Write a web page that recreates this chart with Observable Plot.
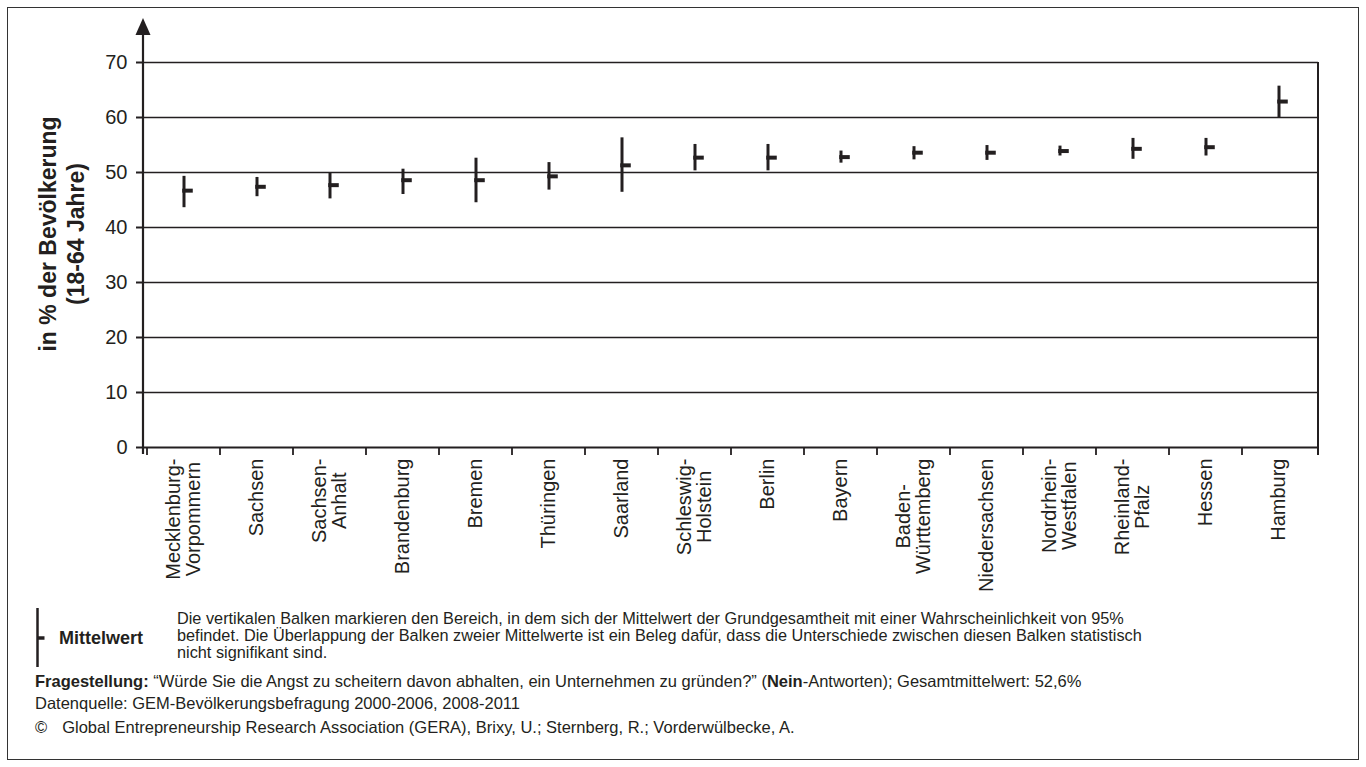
<!DOCTYPE html>
<html><head><meta charset="utf-8">
<script src="https://cdn.jsdelivr.net/npm/d3@7"></script>
<script src="https://cdn.jsdelivr.net/npm/@observablehq/plot@0.6"></script>
<style>
body{margin:0;background:#fff;font-family:"Liberation Sans",Arial,Helvetica,sans-serif;color:#231f20;}
#wrap{position:relative;width:1366px;height:767px;overflow:hidden;background:#fff}
#border{position:absolute;left:7px;top:7px;width:1352px;height:753px;border:1.5px solid #333;box-sizing:border-box;pointer-events:none}
#chart{position:absolute;left:0;top:0}
.ft{position:absolute;font-size:16.5px;white-space:nowrap;line-height:17px;color:#231f20}
</style></head><body>
<div id="wrap">
<div id="chart"></div>
<svg style="position:absolute;left:30px;top:600px" width="24" height="76">
  <line x1="7.5" x2="7.5" y1="8" y2="67" stroke="#231f20" stroke-width="2.5"/>
  <line x1="7" x2="14.5" y1="38" y2="38" stroke="#231f20" stroke-width="3.5"/>
</svg>
<div class="ft" style="left:59px;top:629.5px;font-weight:bold;font-size:18px">Mittelwert</div>
<div class="ft" style="left:177px;top:609.5px;font-size:16.3px">Die vertikalen Balken markieren den Bereich, in dem sich der Mittelwert der Grundgesamtheit mit einer Wahrscheinlichkeit von 95%<br>befindet. Die Überlappung der Balken zweier Mittelwerte ist ein Beleg dafür, dass die Unterschiede zwischen diesen Balken statistisch<br>nicht signifikant sind.</div>
<div class="ft" style="left:35px;top:672.5px"><b>Fragestellung:</b> “Würde Sie die Angst zu scheitern davon abhalten, ein Unternehmen zu gründen?” (<b>Nein</b>-Antworten); Gesamtmittelwert: 52,6%</div>
<div class="ft" style="left:35px;top:694.5px">Datenquelle: GEM-Bevölkerungsbefragung 2000-2006, 2008-2011</div>
<div class="ft" style="left:35px;top:718.5px">©<span style="display:inline-block;width:15px"></span>Global Entrepreneurship Research Association (GERA), Brixy, U.; Sternberg, R.; Vorderwülbecke, A.</div>
<div id="border"></div>
</div>
<script>
const states = ["Mecklenburg-Vorpommern","Sachsen","Sachsen-Anhalt","Brandenburg","Bremen","Thüringen","Saarland","Schleswig-Holstein","Berlin","Bayern","Baden-Württemberg","Niedersachsen","Nordrhein-Westfalen","Rheinland-Pfalz","Hessen","Hamburg"];
const xLabels = ["Mecklenburg-\nVorpommern","Sachsen","Sachsen-\nAnhalt","Brandenburg","Bremen","Thüringen","Saarland","Schleswig-\nHolstein","Berlin","Bayern","Baden-\nWürttemberg","Niedersachsen","Nordrhein-\nWestfalen","Rheinland-\nPfalz","Hessen","Hamburg"];
const lower = [43.6,45.6,45.2,46.0,44.5,46.8,46.4,50.3,50.3,51.7,52.3,52.2,53.0,52.4,53.0,59.9];
const mean  = [46.7,47.4,47.7,48.6,48.6,49.3,51.3,52.7,52.7,52.8,53.6,53.6,53.9,54.3,54.6,62.9];
const upper = [49.3,49.1,49.9,50.6,52.6,51.8,56.3,55.1,55.1,53.9,54.7,54.9,54.8,56.2,56.2,65.7];
const yTicks = [0,10,20,30,40,50,60,70];
const yTitle = ["in % der Bevölkerung","(18-64 Jahre)"];

const data = states.map((s,i)=>({state:s, lo:lower[i], mean:mean[i], hi:upper[i]}));
const labelMap = new Map(states.map((s,i)=>[s,xLabels[i]]));
const ink = "#231f20";
const W = 1366, mL = 143, mR = 48;
const bw = (W - mL - mR) / states.length;

const plot = Plot.plot({
  width: W, height: 600,
  marginLeft: mL, marginRight: mR, marginTop: 62, marginBottom: 153,
  x: {domain: states, padding: 0, axis: null},
  y: {domain: [0,70], axis: null},
  style: {fontFamily: "'Liberation Sans', Arial, sans-serif", color: ink, background: "transparent", overflow: "visible"},
  marks: [
    Plot.ruleY(yTicks.filter(d=>d>0), {stroke: ink, strokeWidth: 1.3}),
    Plot.ruleY([0], {stroke: ink, strokeWidth: 2}),
    Plot.axisY({ticks: yTicks, tickSize: 7, tickPadding: 9, fontSize: 20, label: null, stroke: ink, strokeWidth: 2, tickFormat: d=>String(d)}),
    Plot.axisX({tickSize: 0, tickPadding: 11, tickRotate: -90, textAnchor: "end", lineAnchor: "middle", fontSize: 20, label: null, tickFormat: d=>labelMap.get(d)}),
    Plot.ruleX(data, {x: "state", y1: "lo", y2: "hi", stroke: ink, strokeWidth: 3}),
    Plot.tickY(data, {x: "state", y: "mean", stroke: ink, strokeWidth: 4, insetLeft: bw/2 - 1.5, insetRight: bw/2 - 9.5})
  ]
});
document.getElementById("chart").appendChild(plot);

const svg = d3.select(plot);
const xs = plot.scale("x"), ys = plot.scale("y");
const y0 = ys.apply(0), y70 = ys.apply(70);
const xr = W - mR;
svg.append("line").attr("x1", mL).attr("x2", mL).attr("y1", y0 + 7).attr("y2", 30).attr("stroke", ink).attr("stroke-width", 2.2);
svg.append("path").attr("d", `M${mL},18 L${mL-7.5},35 L${mL+7.5},35 Z`).attr("fill", ink);
svg.append("line").attr("x1", xr).attr("x2", xr).attr("y1", y70).attr("y2", y0 + 8).attr("stroke", ink).attr("stroke-width", 2);
states.forEach(s => {
  const xx = xs.apply(s);
  svg.append("line").attr("x1", xx).attr("x2", xx).attr("y1", y0).attr("y2", y0 + 8).attr("stroke", ink).attr("stroke-width", 1.8);
});
yTitle.forEach((t,i) => {
  svg.append("text").attr("transform", `translate(${48 + i*28},234) rotate(-90)`)
    .attr("text-anchor", "middle").attr("dy", "0.35em")
    .attr("font-size", 23).attr("font-weight", "bold").attr("fill", ink)
    .style("font-family", "'Liberation Sans', Arial, sans-serif").text(t);
});
svg.selectAll("g[aria-label='x-axis tick label'] text").each(function(){
  const tsp = Array.from(this.querySelectorAll("tspan"));
  if (tsp.length < 2) return;
  const lens = tsp.map(t => t.getComputedTextLength());
  const mx = Math.max(...lens);
  tsp.forEach((t,k) => t.setAttribute("x", -(mx - lens[k]) / 2));
});
</script>
</body></html>
